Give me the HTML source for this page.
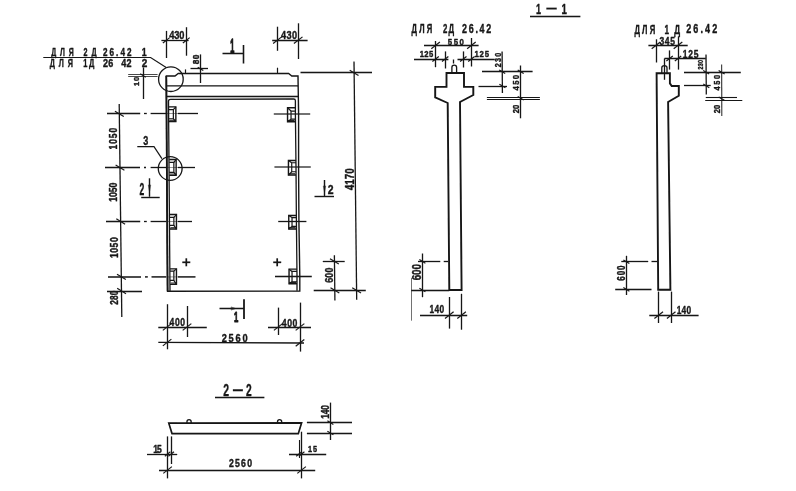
<!DOCTYPE html>
<html lang="ru">
<head>
<meta charset="utf-8">
<title>Панель 2Д 26.42 / 1Д 26.42</title>
<style>
html,body{margin:0;padding:0;background:#fff;}
body{width:796px;height:491px;overflow:hidden;}
svg{display:block;}
svg text{font-family:"Liberation Sans","DejaVu Sans",sans-serif;fill:#161616;stroke:#161616;stroke-width:0.4px;stroke-linejoin:round;}
svg line,svg path,svg circle{stroke:#161616;stroke-linecap:butt;}
</style>
</head>
<body>
<svg width="796" height="491" viewBox="0 0 796 491">
<rect x="0" y="0" width="796" height="491" fill="#ffffff" stroke="none"/>
<defs><filter id="soft" x="0" y="0" width="796" height="491" filterUnits="userSpaceOnUse"><feGaussianBlur stdDeviation="0.32"/></filter></defs>
<g opacity="0.999" filter="url(#soft)">
<path d="M167.6,291.2 L166.3,76 L175,76 L178.2,73.5 L288.6,73.5 L291.8,76 L298,76 L298.6,114 L298.6,167 L298.9,221 L299.8,276 L299.8,291.0 Z" stroke-width="1.4" fill="none" />
<line x1="166.30" y1="76.00" x2="167.60" y2="291.20" stroke-width="1.8" />
<line x1="166.40" y1="85.90" x2="298.10" y2="85.90" stroke-width="1.4" />
<line x1="166.40" y1="96.50" x2="298.20" y2="96.50" stroke-width="1.4" />
<path d="M170.0,291 L168.5,101.2 Q168.5,99.4 170.6,99.4 L293.6,99.0 Q295.4,99.0 295.4,100.8 L295.4,114 L296.0,167 L296.4,221 L297,276 L297,290.8" stroke-width="1.3" fill="none" />
<line x1="185.50" y1="69.40" x2="185.50" y2="73.40" stroke-width="1.2" />
<line x1="277.50" y1="67.70" x2="277.50" y2="73.40" stroke-width="1.2" />
<path d="M168.60,106.85 L175.85,106.85 L175.85,121.55 L168.60,121.55" stroke-width="1.4" fill="none" />
<path d="M168.60,109.63 L173.37,109.63 L173.37,118.77 L168.60,118.77" stroke-width="1.2" fill="none" />
<line x1="173.37" y1="109.63" x2="175.85" y2="106.85" stroke-width="1.2" />
<line x1="173.37" y1="118.77" x2="175.85" y2="121.55" stroke-width="1.2" />
<line x1="169.40" y1="120.25" x2="175.85" y2="120.25" stroke-width="1.0" />
<path d="M169.20,159.45 L176.15,159.45 L176.15,175.35 L169.20,175.35" stroke-width="1.4" fill="none" />
<path d="M169.20,162.33 L173.87,162.33 L173.87,172.37 L169.20,172.37" stroke-width="1.2" fill="none" />
<line x1="173.87" y1="162.33" x2="176.15" y2="159.45" stroke-width="1.2" />
<line x1="173.87" y1="172.37" x2="176.15" y2="175.35" stroke-width="1.2" />
<line x1="170.00" y1="174.05" x2="176.15" y2="174.05" stroke-width="1.0" />
<path d="M169.60,214.55 L176.45,214.55 L176.45,229.05 L169.60,229.05" stroke-width="1.4" fill="none" />
<path d="M169.60,217.33 L173.87,217.33 L173.87,225.47 L169.60,225.47" stroke-width="1.2" fill="none" />
<line x1="173.87" y1="217.33" x2="176.45" y2="214.55" stroke-width="1.2" />
<line x1="173.87" y1="225.47" x2="176.45" y2="229.05" stroke-width="1.2" />
<line x1="170.40" y1="227.75" x2="176.45" y2="227.75" stroke-width="1.0" />
<path d="M170.00,268.85 L176.45,268.85 L176.45,284.35 L170.00,284.35" stroke-width="1.4" fill="none" />
<path d="M170.00,271.13 L173.87,271.13 L173.87,280.47 L170.00,280.47" stroke-width="1.2" fill="none" />
<line x1="173.87" y1="271.13" x2="176.45" y2="268.85" stroke-width="1.2" />
<line x1="173.87" y1="280.47" x2="176.45" y2="284.35" stroke-width="1.2" />
<line x1="170.80" y1="283.05" x2="176.45" y2="283.05" stroke-width="1.0" />
<path d="M295.40,107.75 L287.55,107.75 L287.55,121.75 L295.40,121.75" stroke-width="1.4" fill="none" />
<path d="M295.40,111.03 L291.03,111.03 L291.03,119.17 L295.40,119.17" stroke-width="1.2" fill="none" />
<line x1="291.03" y1="111.03" x2="287.55" y2="107.75" stroke-width="1.2" />
<line x1="291.03" y1="119.17" x2="287.55" y2="121.75" stroke-width="1.2" />
<line x1="294.60" y1="120.45" x2="287.55" y2="120.45" stroke-width="1.0" />
<path d="M296.00,160.45 L288.45,160.45 L288.45,175.05 L296.00,175.05" stroke-width="1.4" fill="none" />
<path d="M296.00,162.73 L291.73,162.73 L291.73,171.77 L296.00,171.77" stroke-width="1.2" fill="none" />
<line x1="291.73" y1="162.73" x2="288.45" y2="160.45" stroke-width="1.2" />
<line x1="291.73" y1="171.77" x2="288.45" y2="175.05" stroke-width="1.2" />
<line x1="295.20" y1="173.75" x2="288.45" y2="173.75" stroke-width="1.0" />
<path d="M296.40,215.55 L288.75,215.55 L288.75,228.95 L296.40,228.95" stroke-width="1.4" fill="none" />
<path d="M296.40,217.53 L292.03,217.53 L292.03,226.37 L296.40,226.37" stroke-width="1.2" fill="none" />
<line x1="292.03" y1="217.53" x2="288.75" y2="215.55" stroke-width="1.2" />
<line x1="292.03" y1="226.37" x2="288.75" y2="228.95" stroke-width="1.2" />
<line x1="295.60" y1="227.65" x2="288.75" y2="227.65" stroke-width="1.0" />
<path d="M297.00,269.15 L289.05,269.15 L289.05,283.75 L297.00,283.75" stroke-width="1.4" fill="none" />
<path d="M297.00,271.43 L292.03,271.43 L292.03,281.77 L297.00,281.77" stroke-width="1.2" fill="none" />
<line x1="292.03" y1="271.43" x2="289.05" y2="269.15" stroke-width="1.2" />
<line x1="292.03" y1="281.77" x2="289.05" y2="283.75" stroke-width="1.2" />
<line x1="296.20" y1="282.45" x2="289.05" y2="282.45" stroke-width="1.0" />
<line x1="107.00" y1="113.50" x2="140.20" y2="113.50" stroke-width="1.3" />
<line x1="144.00" y1="113.50" x2="146.80" y2="113.50" stroke-width="1.3" />
<line x1="150.60" y1="113.50" x2="166.00" y2="113.50" stroke-width="1.3" />
<line x1="166.00" y1="113.50" x2="178.00" y2="113.50" stroke-width="1.0" opacity="0.45"/>
<line x1="178.00" y1="113.50" x2="198.00" y2="113.50" stroke-width="1.3" />
<line x1="105.00" y1="167.50" x2="140.00" y2="167.50" stroke-width="1.3" />
<line x1="144.00" y1="167.50" x2="146.00" y2="167.50" stroke-width="1.3" />
<line x1="150.60" y1="167.50" x2="166.00" y2="167.50" stroke-width="1.3" />
<line x1="166.00" y1="167.50" x2="178.00" y2="167.50" stroke-width="1.0" opacity="0.45"/>
<line x1="178.00" y1="167.50" x2="195.00" y2="167.50" stroke-width="1.3" />
<line x1="106.00" y1="221.50" x2="140.20" y2="221.50" stroke-width="1.3" />
<line x1="144.00" y1="221.50" x2="146.80" y2="221.50" stroke-width="1.3" />
<line x1="150.60" y1="221.50" x2="166.00" y2="221.50" stroke-width="1.3" />
<line x1="166.00" y1="221.50" x2="178.00" y2="221.50" stroke-width="1.0" opacity="0.45"/>
<line x1="178.00" y1="221.50" x2="192.00" y2="221.50" stroke-width="1.3" />
<line x1="108.00" y1="276.90" x2="141.00" y2="276.90" stroke-width="1.5" />
<line x1="145.00" y1="276.90" x2="147.80" y2="276.90" stroke-width="1.5" />
<line x1="151.50" y1="276.90" x2="166.00" y2="276.90" stroke-width="1.5" />
<line x1="166.00" y1="276.90" x2="178.00" y2="276.90" stroke-width="1.0" opacity="0.45"/>
<line x1="178.00" y1="276.90" x2="195.50" y2="276.90" stroke-width="1.5" />
<line x1="273.80" y1="114.10" x2="310.20" y2="114.10" stroke-width="1.5" opacity="0.8"/>
<line x1="274.40" y1="167.00" x2="310.80" y2="167.00" stroke-width="1.5" opacity="0.8"/>
<line x1="278.20" y1="221.50" x2="306.40" y2="221.50" stroke-width="1.3" />
<line x1="275.00" y1="276.50" x2="311.80" y2="276.50" stroke-width="1.3" />
<line x1="119.20" y1="104.00" x2="121.80" y2="317.00" stroke-width="1.3" />
<line x1="114.93" y1="111.16" x2="123.73" y2="116.44" stroke-width="1.2"/>
<line x1="115.61" y1="164.96" x2="124.41" y2="170.24" stroke-width="1.2"/>
<line x1="116.30" y1="218.86" x2="125.10" y2="224.14" stroke-width="1.2"/>
<line x1="117.01" y1="274.26" x2="125.81" y2="279.54" stroke-width="1.2"/>
<line x1="117.19" y1="288.36" x2="125.99" y2="293.64" stroke-width="1.2"/>
<line x1="107.00" y1="291.50" x2="142.00" y2="291.50" stroke-width="1.3" />
<text transform="translate(116.5,149.53) rotate(-90) scale(0.800,1)" font-size="10.58" font-weight="bold" style="letter-spacing:1.19px">1050</text>
<text transform="translate(116.5,201.84) rotate(-90) scale(0.800,1)" font-size="10.87" font-weight="bold" style="letter-spacing:-0.01px">1050</text>
<text transform="translate(117.5,258.04) rotate(-90) scale(0.800,1)" font-size="10.87" font-weight="bold" style="letter-spacing:0.61px">1050</text>
<text transform="translate(117.6,304.69) rotate(-90) scale(0.800,1)" font-size="10.29" font-weight="bold" style="letter-spacing:0.18px">280</text>
<line x1="166.50" y1="30.90" x2="166.50" y2="58.00" stroke-width="1.3" />
<line x1="186.50" y1="27.20" x2="186.50" y2="55.70" stroke-width="1.3" />
<line x1="161.40" y1="40.50" x2="188.60" y2="40.50" stroke-width="1.3" />
<line x1="162.90" y1="42.95" x2="169.70" y2="37.65" stroke-width="1.2"/>
<line x1="182.90" y1="42.95" x2="189.70" y2="37.65" stroke-width="1.2"/>
<text transform="translate(169.16,39.3) scale(0.800,1)" font-size="11.59" font-weight="bold" style="letter-spacing:-0.16px">430</text>
<line x1="200.50" y1="54.40" x2="200.50" y2="83.00" stroke-width="1.3" />
<line x1="190.50" y1="68.50" x2="208.00" y2="68.50" stroke-width="1.3" />
<line x1="197.70" y1="67.22" x2="203.30" y2="70.58" stroke-width="1.2"/>
<text transform="translate(198.7,64.27) rotate(-90) scale(0.900,1)" font-size="9.13" font-weight="bold" style="letter-spacing:0.53px">80</text>
<line x1="143.50" y1="67.40" x2="143.50" y2="99.00" stroke-width="1.3" />
<line x1="128.20" y1="74.50" x2="157.60" y2="74.50" stroke-width="0.8" />
<line x1="128.20" y1="76.50" x2="157.60" y2="76.50" stroke-width="0.8" />
<line x1="140.20" y1="73.82" x2="145.80" y2="77.18" stroke-width="1.2"/>
<text transform="translate(138.7,85.97) rotate(-90) scale(1.000,1)" font-size="7.54" font-weight="bold" style="letter-spacing:0.71px">10</text>
<text transform="translate(51.23,56.1) scale(0.640,1)" font-size="10.87" font-weight="bold" style="letter-spacing:5.93px">ДЛЯ</text>
<text transform="translate(83.45,56.1) scale(0.660,1)" font-size="10.87" font-weight="bold" style="letter-spacing:6.19px">2Д</text>
<text transform="translate(103.01,56.1) scale(0.750,1)" font-size="10.87" font-weight="bold" style="letter-spacing:2.70px">26.42</text>
<text transform="translate(141.65,56.1) scale(0.811,1)" font-size="10.87" font-weight="bold" style="">1</text>
<path d="M43.3,57.5 L150.6,57.5 L166.2,67.5" stroke-width="1.2" fill="none" />
<text transform="translate(49.73,67.4) scale(0.640,1)" font-size="11.30" font-weight="bold" style="letter-spacing:6.03px">ДЛЯ</text>
<text transform="translate(83.23,67.4) scale(0.660,1)" font-size="11.30" font-weight="bold" style="letter-spacing:2.64px">1Д</text>
<text transform="translate(102.98,67.4) scale(0.800,1)" font-size="11.30" font-weight="bold" style="letter-spacing:0.37px">26</text>
<text transform="translate(121.26,67.4) scale(0.800,1)" font-size="11.30" font-weight="bold" style="letter-spacing:0.32px">42</text>
<text transform="translate(141.85,67.4) scale(0.885,1)" font-size="11.30" font-weight="bold" style="">2</text>
<circle cx="170.9" cy="79.2" r="12.3" stroke-width="1.3" fill="none"/>
<text transform="translate(143.20,144.8) scale(0.693,1)" font-size="13.04" font-weight="bold" style="">3</text>
<path d="M137.3,146.7 L154,146.7 L161.9,158.6" stroke-width="1.2" fill="none" />
<circle cx="170.2" cy="168.5" r="11.9" stroke-width="1.3" fill="none"/>
<line x1="277.50" y1="26.70" x2="277.50" y2="50.80" stroke-width="1.3" />
<line x1="298.50" y1="23.30" x2="298.50" y2="59.00" stroke-width="1.3" />
<line x1="272.20" y1="40.50" x2="307.60" y2="40.50" stroke-width="1.3" />
<line x1="273.10" y1="43.55" x2="281.70" y2="36.85" stroke-width="1.2"/>
<line x1="293.90" y1="43.55" x2="302.50" y2="36.85" stroke-width="1.2"/>
<text transform="translate(281.06,38.8) scale(0.800,1)" font-size="11.45" font-weight="bold" style="letter-spacing:0.46px">430</text>
<text transform="translate(230.14,52.6) scale(0.377,1)" font-size="19.42" font-weight="bold" style=";stroke-width:1.33px">1</text>
<line x1="222.50" y1="53.50" x2="244.00" y2="53.50" stroke-width="1.5" />
<line x1="243.50" y1="45.00" x2="243.50" y2="63.50" stroke-width="1.6" />
<line x1="300.50" y1="72.50" x2="372.00" y2="72.50" stroke-width="1.3" />
<line x1="354.00" y1="61.50" x2="356.70" y2="299.80" stroke-width="1.3" />
<line x1="313.70" y1="290.50" x2="365.80" y2="290.50" stroke-width="1.3" />
<line x1="349.70" y1="70.16" x2="358.50" y2="75.44" stroke-width="1.2"/>
<line x1="352.20" y1="287.76" x2="361.00" y2="293.04" stroke-width="1.2"/>
<text transform="translate(354.0,190.15) rotate(-90) scale(0.800,1)" font-size="12.32" font-weight="bold" style="letter-spacing:-0.03px">4170</text>
<line x1="334.40" y1="255.30" x2="334.90" y2="300.50" stroke-width="1.3" />
<line x1="322.80" y1="261.50" x2="344.70" y2="261.50" stroke-width="1.3" />
<line x1="330.00" y1="258.76" x2="338.80" y2="264.04" stroke-width="1.2"/>
<line x1="330.50" y1="287.76" x2="339.30" y2="293.04" stroke-width="1.2"/>
<text transform="translate(333,282.73) rotate(-90) scale(0.800,1)" font-size="11.16" font-weight="bold" style="letter-spacing:0.13px">600</text>
<line x1="149.50" y1="178.30" x2="149.50" y2="196.80" stroke-width="1.4" />
<line x1="141.20" y1="197.50" x2="159.70" y2="197.50" stroke-width="1.4" />
<path d="M148.3,185 L149.5,191.5 L150.7,185 Z" stroke-width="0.6" fill="none" fill="#161616"/>
<text transform="translate(139.40,194.9) scale(0.541,1)" font-size="15.80" font-weight="bold" style="">2</text>
<line x1="324.50" y1="180.00" x2="324.50" y2="196.30" stroke-width="1.4" />
<line x1="314.50" y1="196.50" x2="334.00" y2="196.50" stroke-width="1.4" />
<path d="M323.3,186 L324.5,192 L325.7,186 Z" stroke-width="0.6" fill="none" fill="#161616"/>
<text transform="translate(327.64,194.4) scale(0.856,1)" font-size="12.17" font-weight="bold" style="">2</text>
<line x1="182.30" y1="262.30" x2="190.30" y2="262.30" stroke-width="1.7" />
<line x1="186.30" y1="258.30" x2="186.30" y2="266.30" stroke-width="1.7" />
<line x1="273.20" y1="262.30" x2="281.20" y2="262.30" stroke-width="1.7" />
<line x1="277.20" y1="258.30" x2="277.20" y2="266.30" stroke-width="1.7" />
<line x1="167.50" y1="304.20" x2="167.50" y2="349.30" stroke-width="1.3" />
<line x1="187.50" y1="306.00" x2="187.50" y2="337.00" stroke-width="1.3" />
<line x1="158.30" y1="327.50" x2="206.80" y2="327.50" stroke-width="1.3" />
<line x1="162.80" y1="330.35" x2="171.40" y2="323.65" stroke-width="1.2"/>
<line x1="182.70" y1="330.35" x2="191.30" y2="323.65" stroke-width="1.2"/>
<text transform="translate(169.47,326.2) scale(0.800,1)" font-size="10.72" font-weight="bold" style="letter-spacing:0.85px">400</text>
<line x1="158.30" y1="342.40" x2="304.00" y2="343.00" stroke-width="1.3" />
<line x1="162.80" y1="345.85" x2="171.40" y2="339.15" stroke-width="1.2"/>
<line x1="295.70" y1="346.25" x2="304.30" y2="339.55" stroke-width="1.2"/>
<text transform="translate(221.68,342) scale(0.800,1)" font-size="11.59" font-weight="bold" style="letter-spacing:2.24px">2560</text>
<line x1="300.50" y1="302.60" x2="300.50" y2="351.60" stroke-width="1.3" />
<line x1="278.50" y1="307.60" x2="278.50" y2="335.00" stroke-width="1.3" />
<line x1="268.00" y1="327.50" x2="311.00" y2="327.50" stroke-width="1.3" />
<line x1="273.90" y1="330.35" x2="282.50" y2="323.65" stroke-width="1.2"/>
<line x1="295.70" y1="330.35" x2="304.30" y2="323.65" stroke-width="1.2"/>
<text transform="translate(281.87,326.5) scale(0.800,1)" font-size="10.87" font-weight="bold" style="letter-spacing:0.61px">400</text>
<line x1="244.00" y1="299.20" x2="244.00" y2="319.10" stroke-width="1.8" />
<line x1="219.50" y1="308.50" x2="244.00" y2="308.50" stroke-width="1.5" />
<path d="M231.2,307.0 L235.6,308.5 L231.2,310.0 Z" stroke-width="0.6" fill="none" fill="#161616"/>
<text transform="translate(233.92,321.6) scale(0.551,1)" font-size="14.06" font-weight="bold" style=";stroke-width:0.91px">1</text>
<text transform="translate(536.04,14) scale(0.649,1)" font-size="13.91" font-weight="bold" style="">1</text>
<text transform="translate(546.40,12.8) scale(0.726,1)" font-size="13.91" font-weight="bold" style="">—</text>
<text transform="translate(561.40,14) scale(0.696,1)" font-size="13.91" font-weight="bold" style="">1</text>
<line x1="530.00" y1="16.50" x2="580.40" y2="16.50" stroke-width="1.3" />
<text transform="translate(411.52,33.0) scale(0.640,1)" font-size="11.88" font-weight="bold" style="letter-spacing:3.56px">ДЛЯ</text>
<text transform="translate(442.93,33.0) scale(0.660,1)" font-size="11.88" font-weight="bold" style="letter-spacing:1.77px">2Д</text>
<text transform="translate(461.99,33.0) scale(0.750,1)" font-size="11.88" font-weight="bold" style="letter-spacing:2.32px">26.42</text>
<line x1="435.50" y1="41.00" x2="435.50" y2="67.20" stroke-width="1.3" />
<line x1="471.50" y1="38.00" x2="471.50" y2="66.50" stroke-width="1.3" />
<line x1="424.00" y1="45.50" x2="478.60" y2="45.50" stroke-width="1.3" />
<line x1="431.30" y1="48.75" x2="439.90" y2="42.05" stroke-width="1.2"/>
<line x1="467.10" y1="48.75" x2="475.70" y2="42.05" stroke-width="1.2"/>
<text transform="translate(447.84,44.8) scale(0.800,1)" font-size="9.86" font-weight="bold" style="letter-spacing:1.89px">550</text>
<line x1="414.00" y1="59.50" x2="448.40" y2="59.50" stroke-width="1.3" />
<line x1="457.50" y1="59.50" x2="494.80" y2="59.50" stroke-width="1.3" />
<line x1="445.50" y1="51.40" x2="445.50" y2="68.50" stroke-width="1.3" />
<line x1="463.50" y1="51.40" x2="463.50" y2="67.50" stroke-width="1.3" />
<line x1="432.40" y1="61.50" x2="438.80" y2="56.50" stroke-width="1.2"/>
<line x1="442.00" y1="61.50" x2="448.40" y2="56.50" stroke-width="1.2"/>
<line x1="460.10" y1="61.50" x2="466.50" y2="56.50" stroke-width="1.2"/>
<line x1="468.20" y1="61.50" x2="474.60" y2="56.50" stroke-width="1.2"/>
<text transform="translate(419.72,57.4) scale(0.800,1)" font-size="9.57" font-weight="bold" style="letter-spacing:0.46px">125</text>
<text transform="translate(474.41,57.3) scale(0.800,1)" font-size="9.71" font-weight="bold" style="letter-spacing:1.03px">125</text>
<line x1="453.50" y1="59.50" x2="453.50" y2="63.50" stroke-width="1.3" />
<path d="M451.9,72.7 L451.9,67.4 Q451.9,65.2 454.2,65.2 Q456.6,65.2 456.6,67.4 L456.6,72.7" stroke-width="1.3" fill="none" />
<path d="M449.3,290 L447.7,103 L435.2,97.4 L435.2,86.9 L446.5,86.9 L446.5,73.0 L464.0,73.0 L464.0,86.9 L473.3,86.9 L473.3,95 L460,102 L461.6,290 Z" stroke-width="1.9" fill="none" />
<line x1="502.10" y1="51.40" x2="502.40" y2="93.00" stroke-width="1.3" />
<line x1="482.00" y1="71.50" x2="532.60" y2="71.50" stroke-width="1.3" />
<line x1="478.50" y1="86.50" x2="507.00" y2="86.50" stroke-width="1.3" />
<line x1="499.20" y1="70.00" x2="505.20" y2="73.60" stroke-width="1.2"/>
<line x1="499.40" y1="84.20" x2="505.40" y2="87.80" stroke-width="1.2"/>
<text transform="translate(500.5,67.15) rotate(-90) scale(0.800,1)" font-size="8.99" font-weight="bold" style="letter-spacing:1.47px">230</text>
<line x1="520.50" y1="65.50" x2="520.50" y2="118.30" stroke-width="1.3" />
<line x1="517.70" y1="70.00" x2="523.70" y2="73.60" stroke-width="1.2"/>
<line x1="517.70" y1="96.40" x2="523.70" y2="100.00" stroke-width="1.2"/>
<line x1="486.90" y1="97.50" x2="539.90" y2="97.50" stroke-width="1.1" />
<line x1="486.90" y1="99.50" x2="539.90" y2="99.50" stroke-width="1.1" />
<text transform="translate(519.2,90.42) rotate(-90) scale(0.800,1)" font-size="9.71" font-weight="bold" style="letter-spacing:1.61px">450</text>
<text transform="translate(519.2,113.27) rotate(-90) scale(0.800,1)" font-size="9.57" font-weight="bold" style="letter-spacing:0.10px">20</text>
<line x1="422.50" y1="253.50" x2="422.50" y2="297.20" stroke-width="1.3" />
<line x1="418.00" y1="261.50" x2="440.30" y2="261.50" stroke-width="1.3" />
<line x1="443.70" y1="261.50" x2="448.00" y2="261.50" stroke-width="1.3" />
<line x1="411.20" y1="290.50" x2="449.30" y2="290.50" stroke-width="1.3" />
<line x1="419.40" y1="259.60" x2="425.40" y2="263.20" stroke-width="1.2"/>
<line x1="419.40" y1="288.20" x2="425.40" y2="291.80" stroke-width="1.2"/>
<line x1="411.50" y1="278.00" x2="411.50" y2="320.70" stroke-width="0.6" />
<text transform="translate(420.8,280.37) rotate(-90) scale(0.800,1)" font-size="12.32" font-weight="bold" style="letter-spacing:0.02px">600</text>
<line x1="420.00" y1="315.50" x2="467.20" y2="315.50" stroke-width="1.3" />
<line x1="449.50" y1="297.00" x2="449.50" y2="328.60" stroke-width="1.3" />
<line x1="461.50" y1="293.80" x2="461.50" y2="329.70" stroke-width="1.3" />
<line x1="445.00" y1="318.45" x2="453.60" y2="311.75" stroke-width="1.2"/>
<line x1="457.30" y1="318.45" x2="465.90" y2="311.75" stroke-width="1.2"/>
<text transform="translate(429.48,313.2) scale(0.800,1)" font-size="10.43" font-weight="bold" style="letter-spacing:0.40px">140</text>
<text transform="translate(634.42,34.1) scale(0.640,1)" font-size="12.03" font-weight="bold" style="letter-spacing:3.48px">ДЛЯ</text>
<text transform="translate(664.49,34.0) scale(0.660,1)" font-size="12.46" font-weight="bold" style="letter-spacing:7.78px">1Д</text>
<text transform="translate(686.18,33.1) scale(0.750,1)" font-size="12.03" font-weight="bold" style="letter-spacing:2.83px">26.42</text>
<line x1="656.50" y1="39.30" x2="656.50" y2="62.50" stroke-width="1.3" />
<line x1="678.50" y1="36.30" x2="678.50" y2="69.60" stroke-width="1.3" />
<line x1="648.40" y1="45.50" x2="687.70" y2="45.50" stroke-width="1.3" />
<line x1="651.70" y1="48.75" x2="660.30" y2="42.05" stroke-width="1.2"/>
<line x1="673.70" y1="48.75" x2="682.30" y2="42.05" stroke-width="1.2"/>
<text transform="translate(659.41,44.8) scale(0.800,1)" font-size="10.58" font-weight="bold" style="letter-spacing:0.88px">345</text>
<line x1="664.50" y1="58.50" x2="705.80" y2="58.50" stroke-width="1.3" />
<line x1="669.50" y1="50.40" x2="669.50" y2="69.60" stroke-width="1.3" />
<line x1="666.40" y1="61.00" x2="672.80" y2="56.00" stroke-width="1.2"/>
<line x1="674.80" y1="61.00" x2="681.20" y2="56.00" stroke-width="1.2"/>
<text transform="translate(682.67,57.6) scale(0.800,1)" font-size="10.58" font-weight="bold" style="letter-spacing:1.09px">125</text>
<line x1="664.50" y1="58.50" x2="664.50" y2="79.80" stroke-width="1.3" />
<path d="M661.8,73.3 L661.8,67.8 Q661.8,65.6 664.4,65.6 Q667,65.6 667,67.8 L667,73.3" stroke-width="1.3" fill="none" />
<path d="M658.2,289.8 L656.6,73.3 L669.9,73.3 L669.9,83.4 L671.7,86 L678.8,86 L678.8,95.8 L668.1,102 L670.4,289.8 Z" stroke-width="1.9" fill="none" />
<line x1="706.00" y1="54.60" x2="706.30" y2="94.50" stroke-width="1.3" />
<line x1="684.00" y1="72.50" x2="740.80" y2="72.50" stroke-width="1.3" />
<line x1="684.00" y1="85.50" x2="710.70" y2="85.50" stroke-width="1.3" />
<line x1="703.20" y1="70.40" x2="709.20" y2="74.00" stroke-width="1.2"/>
<line x1="703.30" y1="84.10" x2="709.30" y2="87.70" stroke-width="1.2"/>
<text transform="translate(702.9,69.39) rotate(-90) scale(0.680,1)" font-size="8.12" font-weight="bold" style="letter-spacing:0.23px">230</text>
<line x1="721.60" y1="64.50" x2="721.80" y2="116.00" stroke-width="1.2" opacity="0.8"/>
<line x1="718.60" y1="70.40" x2="724.60" y2="74.00" stroke-width="1.2"/>
<line x1="718.70" y1="97.00" x2="724.70" y2="100.60" stroke-width="1.2"/>
<line x1="705.80" y1="97.50" x2="737.00" y2="97.50" stroke-width="1.1" />
<line x1="705.20" y1="100.50" x2="742.30" y2="100.50" stroke-width="1.1" />
<text transform="translate(720.4,90.61) rotate(-90) scale(0.800,1)" font-size="9.28" font-weight="bold" style="letter-spacing:2.08px">450</text>
<text transform="translate(720.4,113.26) rotate(-90) scale(0.800,1)" font-size="9.42" font-weight="bold" style="letter-spacing:0.25px">20</text>
<line x1="626.50" y1="255.80" x2="626.50" y2="295.00" stroke-width="1.3" />
<line x1="621.30" y1="261.50" x2="648.20" y2="261.50" stroke-width="1.3" />
<line x1="651.50" y1="261.50" x2="657.00" y2="261.50" stroke-width="1.3" />
<line x1="615.20" y1="289.50" x2="651.50" y2="289.50" stroke-width="1.3" />
<line x1="623.40" y1="260.00" x2="629.40" y2="263.60" stroke-width="1.2"/>
<line x1="623.40" y1="287.60" x2="629.40" y2="291.20" stroke-width="1.2"/>
<text transform="translate(625,280.70) rotate(-90) scale(0.800,1)" font-size="10.14" font-weight="bold" style="letter-spacing:1.06px">600</text>
<line x1="649.30" y1="315.50" x2="698.60" y2="315.50" stroke-width="1.3" />
<line x1="658.50" y1="291.60" x2="658.50" y2="323.00" stroke-width="1.3" />
<line x1="671.50" y1="291.60" x2="671.50" y2="323.00" stroke-width="1.3" />
<line x1="654.40" y1="318.45" x2="663.00" y2="311.75" stroke-width="1.2"/>
<line x1="666.90" y1="318.45" x2="675.50" y2="311.75" stroke-width="1.2"/>
<text transform="translate(676.78,314) scale(0.800,1)" font-size="10.43" font-weight="bold" style="letter-spacing:0.21px">140</text>
<text transform="translate(223.34,396.4) scale(0.620,1)" font-size="16.81" font-weight="bold" style="">2</text>
<text transform="translate(233.00,394.5) scale(0.604,1)" font-size="16.23" font-weight="bold" style="">—</text>
<text transform="translate(245.94,395.6) scale(0.652,1)" font-size="15.65" font-weight="bold" style="">2</text>
<line x1="215.00" y1="397.50" x2="264.40" y2="397.50" stroke-width="1.3" />
<path d="M168.8,423.2 L301.6,422.8 L298.3,433.7 L172.0,433.6 Z" stroke-width="1.7" fill="none" />
<path d="M186.95000000000002,423 L186.95000000000002,421.8 A2.1,2.2 0 0 1 191.15,421.8 L191.15,423" stroke-width="1.3" fill="none" />
<path d="M277.5,423 L277.5,421.8 A2.1,2.2 0 0 1 281.70000000000005,421.8 L281.70000000000005,423" stroke-width="1.3" fill="none" />
<line x1="167.50" y1="436.40" x2="167.50" y2="478.40" stroke-width="1.3" />
<line x1="171.50" y1="436.40" x2="171.50" y2="464.00" stroke-width="1.3" />
<line x1="147.00" y1="454.50" x2="177.20" y2="454.50" stroke-width="1.3" />
<line x1="164.80" y1="456.18" x2="170.40" y2="451.82" stroke-width="1.2"/>
<line x1="168.40" y1="456.18" x2="174.00" y2="451.82" stroke-width="1.2"/>
<text transform="translate(153.36,453) scale(0.800,1)" font-size="10.72" font-weight="bold" style="letter-spacing:-1.31px">15</text>
<line x1="159.00" y1="470.50" x2="315.20" y2="470.50" stroke-width="1.3" />
<line x1="163.30" y1="473.35" x2="171.90" y2="466.65" stroke-width="1.2"/>
<line x1="297.30" y1="473.35" x2="305.90" y2="466.65" stroke-width="1.2"/>
<text transform="translate(228.90,467.2) scale(0.800,1)" font-size="10.87" font-weight="bold" style="letter-spacing:1.59px">2560</text>
<line x1="299.50" y1="440.00" x2="299.50" y2="458.00" stroke-width="1.1" />
<line x1="301.50" y1="431.70" x2="301.50" y2="478.40" stroke-width="1.3" />
<line x1="289.00" y1="454.50" x2="326.20" y2="454.50" stroke-width="1.3" />
<line x1="296.20" y1="456.18" x2="301.80" y2="451.82" stroke-width="1.2"/>
<line x1="298.80" y1="456.18" x2="304.40" y2="451.82" stroke-width="1.2"/>
<text transform="translate(308.04,452.3) scale(0.800,1)" font-size="9.13" font-weight="bold" style="letter-spacing:1.06px">15</text>
<line x1="330.50" y1="402.60" x2="330.50" y2="440.00" stroke-width="1.3" />
<line x1="306.90" y1="422.50" x2="352.00" y2="422.50" stroke-width="1.3" />
<line x1="306.90" y1="433.50" x2="352.00" y2="433.50" stroke-width="1.3" />
<line x1="327.40" y1="420.80" x2="333.40" y2="424.40" stroke-width="1.2"/>
<line x1="327.40" y1="431.20" x2="333.40" y2="434.80" stroke-width="1.2"/>
<text transform="translate(328.6,418.73) rotate(-90) scale(0.800,1)" font-size="10.58" font-weight="bold" style="letter-spacing:-0.34px">140</text>
</g>
</svg>
</body>
</html>
